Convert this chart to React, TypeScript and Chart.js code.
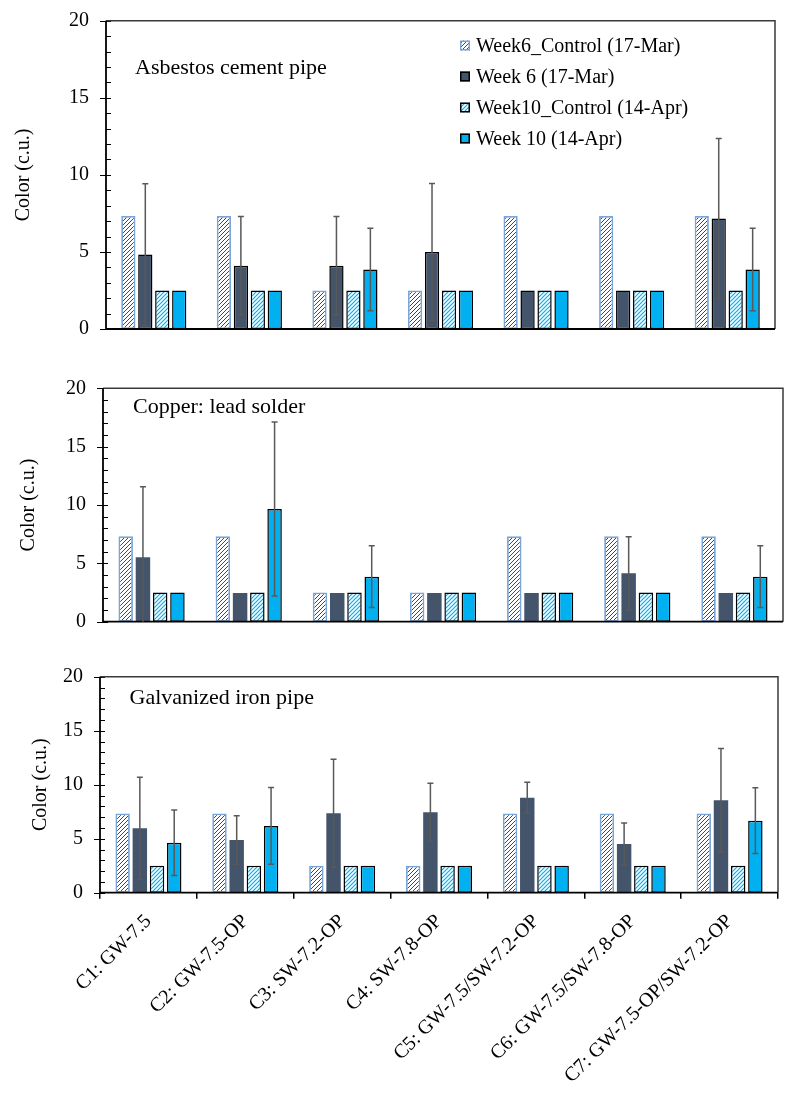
import React, { useEffect, useRef } from 'react';
import { Chart, registerables } from 'chart.js';

Chart.register(...registerables);

// ---------- DATA ----------
const categories = [
  'C1: GW-7.5',
  'C2: GW-7.5-OP',
  'C3: SW-7.2-OP',
  'C4: SW-7.8-OP',
  'C5: GW-7.5/SW-7.2-OP',
  'C6: GW-7.5/SW-7.8-OP',
  'C7: GW-7.5-OP/SW-7.2-OP',
];
const seriesNames = [
  'Week6_Control (17-Mar)',
  'Week 6 (17-Mar)',
  'Week10_Control (14-Apr)',
  'Week 10 (14-Apr)',
];
const yAxisTitle = 'Color (c.u.)';
const yMin = 0;
const yMax = 20;
const yMajorStep = 5;
const yMinorStep = 1;

const panelTitles = ['Asbestos cement pipe', 'Copper: lead solder', 'Galvanized iron pipe'];

// Panel 1: Asbestos cement pipe
const acWeek6Control = [7.33, 7.33, 2.5, 2.5, 7.33, 7.33, 7.33];
const acWeek6 = [4.83, 4.11, 4.11, 5.0, 2.5, 2.5, 7.17];
const acWeek6Err = [4.6, 3.18, 3.18, 4.44, 0, 0, 5.19];
const acWeek10Control = [2.5, 2.5, 2.5, 2.5, 2.5, 2.5, 2.5];
const acWeek10 = [2.5, 2.5, 3.86, 2.5, 2.5, 2.5, 3.86];
const acWeek10Err = [0, 0, 2.67, 0, 0, 0, 2.67];

// Panel 2: Copper: lead solder
const cuWeek6Control = [7.33, 7.33, 2.5, 2.5, 7.33, 7.33, 7.33];
const cuWeek6 = [5.52, 2.45, 2.45, 2.45, 2.45, 4.15, 2.45];
const cuWeek6Err = [6.05, 0, 0, 0, 0, 3.14, 0];
const cuWeek10Control = [2.5, 2.5, 2.5, 2.5, 2.5, 2.5, 2.5];
const cuWeek10 = [2.5, 9.66, 3.86, 2.5, 2.5, 2.5, 3.86];
const cuWeek10Err = [0, 7.45, 2.65, 0, 0, 0, 2.65];

// Panel 3: Galvanized iron pipe
const giWeek6Control = [7.33, 7.33, 2.5, 2.5, 7.33, 7.33, 7.33];
const giWeek6 = [5.96, 4.88, 7.35, 7.44, 8.8, 4.51, 8.55];
const giWeek6Err = [4.72, 2.25, 5.0, 2.7, 1.42, 1.95, 4.8];
const giWeek10Control = [2.5, 2.5, 2.5, 2.5, 2.5, 2.5, 2.5];
const giWeek10 = [4.63, 6.18, 2.5, 2.5, 2.5, 2.5, 6.67];
const giWeek10Err = [3.03, 3.55, 0, 0, 0, 0, 3.05];

// ---------- STYLE / LAYOUT ----------
const FONT = "'Liberation Serif', 'Times New Roman', serif";
const C_DARK = '#44546A';
const C_BLUE = '#00B0F0';
const C_CTRL_BORDER = '#79A5DA';
const C_ERR = '#595959';

type PanelData = {
  title: string;
  w6c: number[];
  w6: number[];
  w6e: number[];
  w10c: number[];
  w10: number[];
  w10e: number[];
};

const panelsData: PanelData[] = [
  { title: panelTitles[0], w6c: acWeek6Control, w6: acWeek6, w6e: acWeek6Err, w10c: acWeek10Control, w10: acWeek10, w10e: acWeek10Err },
  { title: panelTitles[1], w6c: cuWeek6Control, w6: cuWeek6, w6e: cuWeek6Err, w10c: cuWeek10Control, w10: cuWeek10, w10e: cuWeek10Err },
  { title: panelTitles[2], w6c: giWeek6Control, w6: giWeek6, w6e: giWeek6Err, w10c: giWeek10Control, w10: giWeek10, w10e: giWeek10Err },
];

const panelLayouts = [
  { top: 0, height: 345, padTop: 20.7, padBottom: 16, padRight: 10, yWidth: 106, titlePad: 12, showX: false, darkBorder: true, legend: true, titleX: 135, titleY: 74 },
  { top: 350, height: 290, padTop: 38.3, padBottom: 18.3, padRight: 2, yWidth: 103, titlePad: 17, showX: false, darkBorder: false, legend: false, titleX: 133, titleY: 62.7 },
  { top: 640, height: 453, padTop: 36.7, padBottom: 0, padRight: 7, yWidth: 100, titlePad: 29, showX: true, darkBorder: false, legend: false, titleX: 129.5, titleY: 64, xHeight: 200.3 },
];

function makeHatch(ctx: CanvasRenderingContext2D, color: string, size: number, lw: number) {
  const c = document.createElement('canvas');
  c.width = size;
  c.height = size;
  const g = c.getContext('2d')!;
  g.fillStyle = '#ffffff';
  g.fillRect(0, 0, size, size);
  g.strokeStyle = color;
  g.lineWidth = lw;
  g.beginPath();
  g.moveTo(-1, size + 1);
  g.lineTo(size + 1, -1);
  g.moveTo(-2, 2);
  g.lineTo(2, -2);
  g.moveTo(size - 2, size + 2);
  g.lineTo(size + 2, size - 2);
  g.stroke();
  return ctx.createPattern(c, 'repeat');
}

const framePlugin = {
  id: 'frameTicks',
  afterDatasetsDraw(chart: any) {
    const { ctx, chartArea: a, scales } = chart;
    const y = scales.y;
    ctx.save();
    ctx.strokeStyle = '#000';
    ctx.lineWidth = 1;
    for (let v = yMin; v <= yMax + 1e-9; v += yMinorStep) {
      const py = Math.round(y.getPixelForValue(v)) + 0.5;
      const major = Math.abs(v / yMajorStep - Math.round(v / yMajorStep)) < 1e-9;
      ctx.beginPath();
      ctx.moveTo(a.left - (major ? 6 : 0), py);
      ctx.lineTo(a.left + 5, py);
      ctx.stroke();
    }
    ctx.strokeStyle = '#3a3a3a';
    ctx.lineWidth = 1.5;
    ctx.beginPath();
    ctx.moveTo(a.left, a.top);
    ctx.lineTo(a.right, a.top);
    ctx.lineTo(a.right, a.bottom);
    ctx.stroke();
    ctx.strokeStyle = '#000';
    ctx.lineWidth = 1.8;
    ctx.beginPath();
    ctx.moveTo(a.left, a.top);
    ctx.lineTo(a.left, a.bottom);
    ctx.lineTo(a.right, a.bottom);
    ctx.stroke();
    ctx.restore();
  },
};

const errorBarPlugin = {
  id: 'errorBars',
  afterDatasetsDraw(chart: any) {
    const { ctx, scales, chartArea } = chart;
    const y = scales.y;
    ctx.save();
    ctx.strokeStyle = C_ERR;
    ctx.lineWidth = 1.5;
    chart.data.datasets.forEach((ds: any, i: number) => {
      if (!ds.errors) return;
      const meta = chart.getDatasetMeta(i);
      meta.data.forEach((el: any, j: number) => {
        const e = ds.errors[j];
        const v = ds.data[j];
        if (!e) return;
        const x = el.x;
        const yt = y.getPixelForValue(v + e);
        const yb = Math.min(y.getPixelForValue(Math.max(v - e, yMin)), chartArea.bottom);
        ctx.beginPath();
        ctx.moveTo(x, yt);
        ctx.lineTo(x, yb);
        ctx.moveTo(x - 3, yt);
        ctx.lineTo(x + 3, yt);
        if (v - e > yMin) {
          ctx.moveTo(x - 3, yb);
          ctx.lineTo(x + 3, yb);
        }
        ctx.stroke();
      });
    });
    ctx.restore();
  },
};

const panelTitlePlugin = {
  id: 'panelTitle',
  afterDraw(chart: any, _args: any, opts: any) {
    if (!opts || !opts.text) return;
    const { ctx } = chart;
    ctx.save();
    ctx.fillStyle = '#000';
    ctx.font = `22px ${FONT}`;
    ctx.textAlign = 'left';
    ctx.textBaseline = 'alphabetic';
    ctx.fillText(opts.text, opts.x, opts.y);
    ctx.restore();
  },
};

const legendPlugin = {
  id: 'boxLegend',
  afterDraw(chart: any, _args: any, opts: any) {
    if (!opts || !opts.show) return;
    const { ctx } = chart;
    ctx.save();
    ctx.font = `20px ${FONT}`;
    ctx.textAlign = 'left';
    ctx.textBaseline = 'middle';
    chart.data.datasets.forEach((ds: any, i: number) => {
      const cy = opts.y + i * opts.spacing;
      const sx = opts.x;
      ctx.fillStyle = ds.backgroundColor;
      ctx.fillRect(sx, cy - 5, 10, 10);
      ctx.strokeStyle = ds.legendBorder || ds.borderColor;
      ctx.lineWidth = 1.5;
      ctx.strokeRect(sx + 0.75, cy - 4.25, 8.5, 8.5);
      ctx.fillStyle = '#000';
      ctx.fillText(ds.label, sx + 16, cy + 1);
    });
    ctx.restore();
  },
};

function buildConfig(p: PanelData, L: any, ctx: CanvasRenderingContext2D): any {
  const hatchDark = makeHatch(ctx, '#3c475a', 4, 1);
  const hatchBlue = makeHatch(ctx, C_BLUE, 4, 1.2);
  const datasets = [
    { label: seriesNames[0], data: p.w6c, backgroundColor: hatchDark, borderColor: C_CTRL_BORDER, borderWidth: 1.8 },
    {
      label: seriesNames[1], data: p.w6, errors: p.w6e, backgroundColor: C_DARK,
      borderColor: L.darkBorder ? '#000' : C_DARK, legendBorder: '#000', borderWidth: L.darkBorder ? 1.5 : 0,
    },
    { label: seriesNames[2], data: p.w10c, backgroundColor: hatchBlue, borderColor: '#000', borderWidth: 1.5 },
    { label: seriesNames[3], data: p.w10, errors: p.w10e, backgroundColor: C_BLUE, borderColor: '#000', borderWidth: 1.5 },
  ];
  const xScale: any = L.showX
    ? {
        type: 'category',
        offset: true,
        ticks: {
          color: '#000',
          font: { family: FONT, size: 20 },
          minRotation: 45,
          maxRotation: 45,
          autoSkip: false,
          padding: 11,
        },
        grid: { display: true, drawOnChartArea: false, offset: true, tickLength: 6, color: '#000', lineWidth: 1.5 },
        border: { display: false },
        afterFit: (s: any) => { s.height = L.xHeight; s.paddingLeft = 0; s.paddingRight = 0; },
      }
    : { type: 'category', offset: true, display: false };
  return {
    type: 'bar',
    data: { labels: categories, datasets },
    plugins: [framePlugin, errorBarPlugin, panelTitlePlugin, legendPlugin],
    options: {
      responsive: false,
      maintainAspectRatio: false,
      animation: false,
      devicePixelRatio: 1,
      layout: { padding: { left: 0, right: L.padRight, top: L.padTop, bottom: L.padBottom } },
      datasets: { bar: { categoryPercentage: 0.71, barPercentage: 0.84, borderSkipped: false } },
      scales: {
        x: xScale,
        y: {
          min: yMin,
          max: yMax,
          ticks: { stepSize: yMajorStep, color: '#000', font: { family: FONT, size: 20 }, padding: 17 },
          grid: { display: false, drawTicks: false },
          border: { display: false },
          title: {
            display: true,
            text: yAxisTitle,
            color: '#000',
            font: { family: FONT, size: 20 },
            padding: { top: L.titlePad, bottom: 0 },
          },
          afterFit: (s: any) => { s.width = L.yWidth; s.paddingTop = 0; s.paddingBottom = 0; },
        },
      },
      plugins: {
        legend: { display: false },
        tooltip: { enabled: false },
        title: { display: false },
        panelTitle: { text: p.title, x: L.titleX, y: L.titleY },
        boxLegend: { show: L.legend, x: 460, y: 45.5, spacing: 31 },
      },
    },
  };
}

export default function App() {
  const r1 = useRef<HTMLCanvasElement>(null);
  const r2 = useRef<HTMLCanvasElement>(null);
  const r3 = useRef<HTMLCanvasElement>(null);

  useEffect(() => {
    const refs = [r1, r2, r3];
    const charts = refs.map((r, i) => {
      const cv = r.current!;
      const ctx = cv.getContext('2d')!;
      return new Chart(cv, buildConfig(panelsData[i], panelLayouts[i], ctx));
    });
    return () => charts.forEach((c) => c.destroy());
  }, []);

  const refs = [r1, r2, r3];
  return (
    <div style={{ position: 'absolute', left: 0, top: 0, width: 785, height: 1093, background: '#fff', overflow: 'hidden' }}>
      {panelLayouts.map((L, i) => (
        <canvas
          key={i}
          ref={refs[i]}
          width={785}
          height={L.height}
          style={{ position: 'absolute', left: 0, top: L.top, width: 785, height: L.height }}
        />
      ))}
    </div>
  );
}
